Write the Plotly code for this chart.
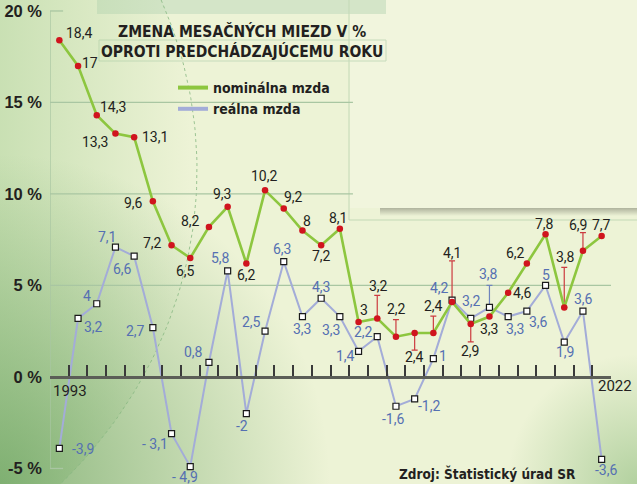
import numpy as np
import plotly.graph_objects as go

# ---------------- data ----------------
years = list(range(1993, 2023))
nominal = [18.4, 17, 14.3, 13.3, 13.1, 9.6, 7.2, 6.5, 8.2, 9.3, 6.2, 10.2, 9.2, 8, 7.2,
           8.1, 3, 3.2, 2.2, 2.4, 2.4, 4.1, 2.9, 3.3, 4.6, 6.2, 7.8, 3.8, 6.9, 7.7]
real = [-3.9, 3.2, 4, 7.1, 6.6, 2.7, -3.1, -4.9, 0.8, 5.8, -2, 2.5, 6.3, 3.3, 4.3,
        3.3, 1.4, 2.2, -1.6, -1.2, 1, 4.2, 3.2, 3.8, 3.3, 3.6, 5, 1.9, 3.6, -4.5]
nominal_labels = ["18,4", "17", "14,3", "13,3", "13,1", "9,6", "7,2", "6,5", "8,2", "9,3",
                  "6,2", "10,2", "9,2", "8", "7,2", "8,1", "3", "3,2", "2,2", "2,4",
                  "2,4", "4,1", "2,9", "3,3", "4,6", "6,2", "7,8", "3,8", "6,9", "7,7"]
real_labels = ["-3,9", "3,2", "4", "7,1", "6,6", "2,7", "- 3,1", "- 4,9", "0,8", "5,8",
               "-2", "2,5", "6,3", "3,3", "4,3", "3,3", "1,4", "2,2", "-1,6", "-1,2",
               "1", "4,2", "3,2", "3,8", "3,3", "3,6", "5", "1,9", "3,6", "-3,6"]
y_ticks = [-5, 0, 5, 10, 15, 20]
y_tick_labels = ["-5 %", "0 %", "5 %", "10 %", "15 %", "20 %"]
series_names = ["nominálna mzda", "reálna mzda"]
title_text = "ZMENA MESAČNÝCH MIEZD V %<br>OPROTI PREDCHÁDZAJÚCEMU ROKU"
source_text = "Zdroj: Štatistický úrad SR"

# ---------------- style / layout ----------------
W, H = 637, 484
PL, PR = 50, 611            # plot area left/right in px
YMIN, YMAX = -5.85, 20.6
PXU = H / (YMAX - YMIN)     # px per percent
BG = "#edf3d6"
GREEN = "#8dc63f"
RED = "#d0141e"
LAV = "#a3acd8"
BLUE_TXT = "#5570b2"
DARK = "#231f20"
NARROW = "Liberation Sans Narrow, DejaVu Sans Condensed, Arial Narrow, Liberation Sans, sans-serif"
LBL = "Roboto, Liberation Sans, Arial, sans-serif"

# label offsets (dx, dy up) in px, per point
nom_off = [(20, 7), (12, 3), (16, 8), (-20, -8), (21, 0), (-19, -2), (-19, 2), (-5, -13),
           (-18, 6), (-5, 13), (0, -11), (-1, 14), (10, 12), (5, 10), (0, -11), (-1, 11),
           (5, 12), (1, 32), (1, 28), (0, -24), (0, 27), (0, 49), (0, -27), (0, -12),
           (14, 0), (-11, 11), (-1, 10), (1, 50), (-4, 26), (0, 11)]
real_off = [(24, -1), (15, -9), (-10, 8), (-8, 10), (-12, -13), (-17, -3), (-17, -10),
            (-5, -10), (-15, 10), (-7, 13), (-4, -12), (-14, 9), (-1, 13), (0, -12),
            (0, 11), (-8, -13), (-13, -5), (-14, 5), (-3, -13), (14, -7), (10, 3),
            (-13, 12), (1, 17), (-1, 33), (7, -12), (12, -11), (0, 10), (1, -10),
            (1, 12), (4, -11)]
# leader lines (px): index -> (up, down)
nom_lead = {17: (23, 0), 18: (17, 0), 19: (0, 17), 20: (17, 0), 21: (41, 0),
            22: (0, 18), 27: (40, 0), 28: (18, 0)}
real_lead = {23: (22, 0)}

fig = go.Figure()

# ---------- decorative background (pixel axes x/y) ----------
cx, cy, rx, ry = -300, 170, 497, 456
ys = np.linspace(0, H, 60)
xs = cx + rx * np.sqrt(np.clip(1 - ((ys - cy) / ry) ** 2, 0, 1))
fig.add_trace(go.Scatter(
    x=[0] + list(xs) + [0], y=[0] + list(ys) + [H], mode="none", fill="toself",
    fillgradient=dict(type="horizontal", start=0, stop=190,
                      colorscale=[[0, "rgba(165,205,145,0.5)"], [1, "rgba(165,205,145,0)"]]),
    xaxis="x", yaxis="y", showlegend=False, hoverinfo="skip"))
th = np.linspace(0, 2 * np.pi, 80)
R1 = 330
fig.add_trace(go.Scatter(
    x=list(R1 * np.cos(th)), y=list(H + R1 * np.sin(th)), mode="none", fill="toself",
    fillgradient=dict(type="radial",
                      colorscale=[[0, "rgba(95,155,85,0.7)"], [1, "rgba(95,155,85,0)"]]),
    xaxis="x", yaxis="y", showlegend=False, hoverinfo="skip"))
R2 = 130
fig.add_trace(go.Scatter(
    x=list(W + R2 * np.cos(th)), y=list(H + R2 * np.sin(th)), mode="none", fill="toself",
    fillgradient=dict(type="radial",
                      colorscale=[[0, "rgba(120,175,105,0.5)"], [1, "rgba(120,175,105,0)"]]),
    xaxis="x", yaxis="y", showlegend=False, hoverinfo="skip"))
fig.add_trace(go.Scatter(
    x=list(xs), y=list(ys), mode="lines", line=dict(color="#86b882", width=0.8, dash="dot"),
    xaxis="x", yaxis="y", showlegend=False, hoverinfo="skip"))
# panel shadow
fig.add_trace(go.Scatter(
    x=[380, W, W, 380], y=[208, 208, 216, 216], mode="none", fill="toself",
    fillgradient=dict(type="vertical", start=208, stop=216,
                      colorscale=[[0, "rgba(60,60,50,0.35)"], [1, "rgba(60,60,50,0)"]]),
    xaxis="x", yaxis="y", showlegend=False, hoverinfo="skip"))

shapes = [
    dict(type="rect", xref="x", yref="y", x0=350, x1=W, y0=0, y1=208,
         fillcolor="#f1f5dd", line_width=0, layer="below"),
    dict(type="rect", xref="x", yref="y", x0=97, x1=386, y0=0, y1=14,
         fillcolor="#d4e5c8", line_width=0, layer="below"),
    dict(type="line", xref="x", yref="y", x0=349, x1=349, y0=0, y1=220,
         line=dict(color="#c3d9b6", width=1), layer="below"),
    dict(type="line", xref="x", yref="y", x0=349, x1=W, y0=220, y1=220,
         line=dict(color="#c3d9b6", width=1), layer="below"),
    dict(type="rect", xref="x", yref="y", x0=99, x1=386, y0=40, y1=61,
         fillcolor="rgba(0,0,0,0)", line=dict(color="#c6dbbb", width=1), layer="below"),
]
# grid stubs / lines (main axes)
grid_color = "#a9c6a2"
grid_ext = {20: 1993.2, 15: 2008.7, 10: 2008.7, 5: 2022.7, -5: 1993.2}
for gy, gx1 in grid_ext.items():
    shapes.append(dict(type="line", xref="x2", yref="y2", x0=1992.5, x1=gx1, y0=gy, y1=gy,
                       line=dict(color=grid_color, width=1.3), layer="below"))
shapes.append(dict(type="line", xref="x2", yref="y2", x0=1992.5, x1=1992.5, y0=-5, y1=20,
                   line=dict(color=grid_color, width=1.3), layer="below"))

# ---------- data traces ----------
def leaders(lead, vals):
    idx = sorted(lead)
    return ([years[i] for i in idx], [vals[i] for i in idx],
            [lead[i][0] / PXU for i in idx], [lead[i][1] / PXU for i in idx])

lx, ly, lu, ld = leaders(real_lead, real)
fig.add_trace(go.Scatter(x=lx, y=ly, mode="markers", marker=dict(size=1, opacity=0),
                         error_y=dict(type="data", symmetric=False, array=lu, arrayminus=ld,
                                      color="#6f84bd", thickness=1.2, width=3),
                         xaxis="x2", yaxis="y2", showlegend=False, hoverinfo="skip"))
lx, ly, lu, ld = leaders(nom_lead, nominal)
fig.add_trace(go.Scatter(x=lx, y=ly, mode="markers", marker=dict(size=1, opacity=0),
                         error_y=dict(type="data", symmetric=False, array=lu, arrayminus=ld,
                                      color="#cc3b40", thickness=1.2, width=3),
                         xaxis="x2", yaxis="y2", showlegend=False, hoverinfo="skip"))

fig.add_trace(go.Scatter(x=years, y=real, mode="lines+markers",
                         line=dict(color=LAV, width=2),
                         marker=dict(symbol="square", size=6, color="white",
                                     line=dict(color="#1a1a1a", width=1.2)),
                         xaxis="x2", yaxis="y2", showlegend=False, hoverinfo="skip"))
fig.add_trace(go.Scatter(x=years, y=nominal, mode="lines+markers",
                         line=dict(color=GREEN, width=2.6),
                         marker=dict(size=6.5, color=RED),
                         xaxis="x2", yaxis="y2", showlegend=False, hoverinfo="skip"))

# legend-only traces
for name, col in zip(series_names, [GREEN, LAV]):
    fig.add_trace(go.Scatter(x=[None], y=[None], mode="lines", name=name,
                             line=dict(color=col, width=4), xaxis="x2", yaxis="y2"))

# ---------- annotations ----------
ann = []
for yr, v, t, (dx, dy) in zip(years, nominal, nominal_labels, nom_off):
    ann.append(dict(x=yr, y=v, xref="x2", yref="y2", text=t, showarrow=False,
                    xshift=dx, yshift=dy, font=dict(family=LBL, size=14, color=DARK)))
for yr, v, t, (dx, dy) in zip(years, real, real_labels, real_off):
    ann.append(dict(x=yr, y=v, xref="x2", yref="y2", text=t, showarrow=False,
                    xshift=dx, yshift=dy, font=dict(family=LBL, size=14, color=BLUE_TXT)))
ann.append(dict(x=years[0], y=0, xref="x2", yref="y2", text=str(years[0]), showarrow=False,
                xshift=11, yshift=-14, font=dict(family=LBL, size=15, color=DARK)))
ann.append(dict(x=years[-1], y=0, xref="x2", yref="y2", text=str(years[-1]), showarrow=False,
                xshift=13, yshift=-9, font=dict(family=LBL, size=15, color=DARK)))
ann.append(dict(x=242, y=41, xref="x", yref="y", text=title_text, showarrow=False,
                align="center", font=dict(family=NARROW, size=15.5, color=DARK, weight="bold")))
ann.append(dict(x=487, y=473, xref="x", yref="y", text=source_text, showarrow=False,
                font=dict(family=NARROW, size=13.5, color=DARK, weight="bold")))

ypos = (0 - YMIN) / (YMAX - YMIN)
fig.update_layout(
    width=W, height=H, autosize=False,
    margin=dict(l=0, r=0, t=0, b=0, pad=0),
    paper_bgcolor=BG, plot_bgcolor="rgba(0,0,0,0)",
    xaxis=dict(domain=[0, 1], range=[0, W], visible=False, fixedrange=True),
    yaxis=dict(domain=[0, 1], range=[H, 0], visible=False, fixedrange=True),
    xaxis2=dict(domain=[PL / W, PR / W], range=[1992.5, 2022.5], anchor="free",
                position=ypos, showline=True, linecolor="#5b5e57", linewidth=2.5,
                ticks="inside", tickvals=[y + 0.5 for y in [years[0] - 1] + years],
                ticklen=11, tickwidth=1.5, tickcolor="#3a3a3a", showticklabels=False,
                showgrid=False, zeroline=False, fixedrange=True),
    yaxis2=dict(domain=[0, 1], range=[YMIN, YMAX], anchor="x2", tickvals=y_ticks,
                ticktext=y_tick_labels, showgrid=False, zeroline=False, showline=False,
                ticks="", ticklabelstandoff=7,
                tickfont=dict(family="Liberation Sans, Arial, sans-serif", size=16.5,
                              color=DARK, weight="bold"), fixedrange=True),
    legend=dict(x=173 / W, y=1 - 72 / H, xanchor="left", yanchor="top",
                bgcolor="rgba(0,0,0,0)", tracegroupgap=0,
                font=dict(family=NARROW, size=14, color=DARK, weight="bold")),
    shapes=shapes, annotations=ann, showlegend=True,
)

fig.write_html("out.html")
